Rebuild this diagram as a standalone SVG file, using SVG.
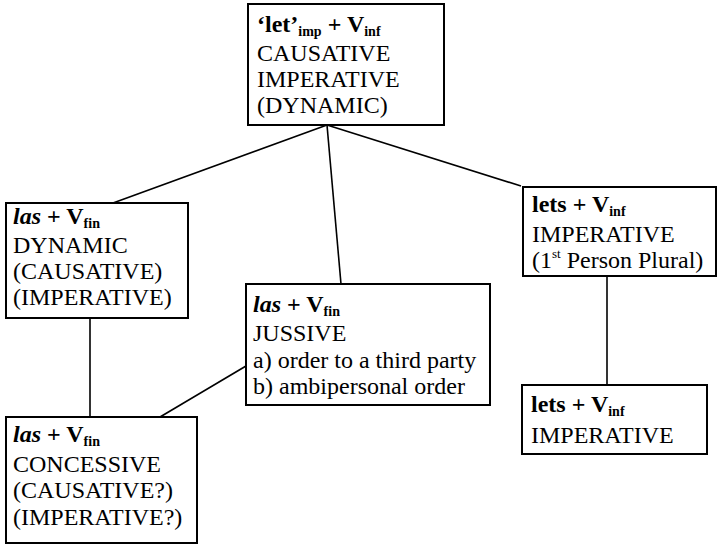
<svg xmlns="http://www.w3.org/2000/svg" width="722" height="548" viewBox="0 0 722 548">
<style>
.box{fill:#fff;stroke:#000;stroke-width:2}
text{font-family:'Liberation Serif','Times New Roman',serif;font-size:24px;fill:#000}
.b{font-weight:bold}
.bi{font-weight:bold;font-style:italic}
.sub{font-size:14px;font-weight:bold}
.sup{font-size:13px}
.conn line{stroke:#000;stroke-width:1.6}
</style>
<rect width="722" height="548" fill="#fff"/>
<g class="conn">
<line x1="327" y1="125" x2="113" y2="203"/>
<line x1="327" y1="125" x2="341" y2="284"/>
<line x1="327" y1="125" x2="521" y2="186"/>
<line x1="90" y1="318" x2="90" y2="417"/>
<line x1="246" y1="366" x2="160" y2="417"/>
<line x1="607" y1="276" x2="607" y2="385"/>
</g>
<g id="n-let">
<rect class="box" x="248" y="4" width="196" height="121"/>
<text x="257" y="32"><tspan class="b">‘let’</tspan><tspan class="sub" dy="4">imp</tspan><tspan class="b" dy="-4"> + V</tspan><tspan class="sub" dy="4">inf</tspan></text>
<text x="257" y="61">CAUSATIVE</text>
<text x="257" y="87">IMPERATIVE</text>
<text x="257" y="113">(DYNAMIC)</text>
</g>
<g id="n-las-dynamic">
<rect class="box" x="6" y="203" width="182" height="115"/>
<text x="13" y="224"><tspan class="bi">las</tspan><tspan class="b"> + V</tspan><tspan class="sub" dy="4">fin</tspan></text>
<text x="13" y="253">DYNAMIC</text>
<text x="13" y="279">(CAUSATIVE)</text>
<text x="13" y="305">(IMPERATIVE)</text>
</g>
<g id="n-las-jussive">
<rect class="box" x="246" y="284" width="244" height="121"/>
<text x="253" y="312"><tspan class="bi">las</tspan><tspan class="b"> + V</tspan><tspan class="sub" dy="4">fin</tspan></text>
<text x="253" y="341">JUSSIVE</text>
<text x="253" y="368">a) order to a third party</text>
<text x="253" y="394">b) ambipersonal order</text>
</g>
<g id="n-lets-1pl">
<rect class="box" x="523" y="187" width="193" height="89"/>
<text x="532" y="212"><tspan class="b">lets + V</tspan><tspan class="sub" dy="4">inf</tspan></text>
<text x="532" y="242">IMPERATIVE</text>
<text x="532" y="268">(1<tspan class="sup" dy="-10">st</tspan><tspan dy="10"> Person Plural)</tspan></text>
</g>
<g id="n-lets-imp">
<rect class="box" x="522" y="385" width="185" height="69"/>
<text x="531" y="412"><tspan class="b">lets + V</tspan><tspan class="sub" dy="4">inf</tspan></text>
<text x="531" y="443">IMPERATIVE</text>
</g>
<g id="n-las-concessive">
<rect class="box" x="6" y="417" width="191" height="126"/>
<text x="13" y="442"><tspan class="bi">las</tspan><tspan class="b"> + V</tspan><tspan class="sub" dy="4">fin</tspan></text>
<text x="13" y="472">CONCESSIVE</text>
<text x="13" y="498">(CAUSATIVE?)</text>
<text x="13" y="525">(IMPERATIVE?)</text>
</g>
</svg>
